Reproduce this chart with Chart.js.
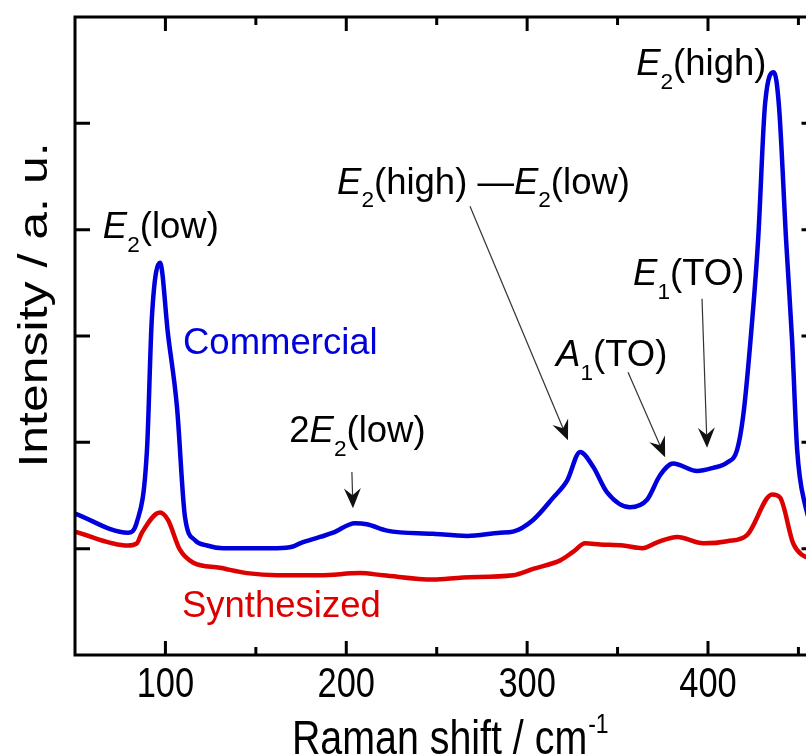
<!DOCTYPE html>
<html>
<head>
<meta charset="utf-8">
<script src="https://cdn.jsdelivr.net/npm/chart.js@4.4.1/dist/chart.umd.min.js"></script>
<style>
html, body { margin: 0; padding: 0; background: #fff; overflow: hidden; }
canvas { display: block; }
</style>
</head>
<body>
<canvas id="ramanChart" width="830" height="755"></canvas>
<script>
// Raman spectra (x: cm-1, y: arbitrary units)
const shiftCommercial = [50, 79.3, 84.2, 89.8, 92.5, 97.0, 101.4, 106.4, 110.8, 116.3, 123.0, 131.8, 146.7, 161.7, 170.5, 174.4, 185.5, 192.7, 204.8, 211.4, 222.5, 248.0, 266.8, 285.0, 292.2, 303.3, 314.4, 322.1, 329.3, 336.5, 344.2, 356.9, 366.3, 373.5, 380.7, 394.0, 402.8, 410.6, 416.1, 419.4, 422.7, 427.7, 431.6, 436.5, 439.3, 443.2, 446.5, 449.3, 453.7, 459];
const intensityCommercial = [1.33, 1.15, 1.25, 1.93, 3.17, 3.69, 3.02, 2.33, 1.30, 1.08, 1.03, 1.005, 1.005, 1.005, 1.02, 1.05, 1.11, 1.15, 1.24, 1.23, 1.17, 1.14, 1.12, 1.15, 1.16, 1.27, 1.48, 1.64, 1.91, 1.77, 1.53, 1.39, 1.46, 1.69, 1.80, 1.73, 1.76, 1.81, 1.93, 2.24, 2.80, 3.90, 5.19, 5.48, 5.15, 3.90, 2.96, 1.93, 1.41, 1.15];

const shiftSynthesized = [50, 79.3, 84.2, 87.0, 97.0, 101.4, 108.0, 115.2, 130.1, 145.1, 161.7, 185.5, 207.7, 220.4, 248.0, 264.6, 292.2, 303.3, 318.3, 325.4, 332.1, 340.4, 353.1, 363.6, 371.9, 383.0, 397.4, 410.6, 421.7, 435.5, 439.9, 447.1, 452.1, 459];
const intensitySynthesized = [1.16, 1.03, 1.05, 1.15, 1.34, 1.27, 0.99, 0.87, 0.82, 0.77, 0.75, 0.75, 0.77, 0.75, 0.71, 0.73, 0.75, 0.81, 0.89, 0.97, 1.05, 1.04, 1.03, 1.005, 1.06, 1.11, 1.05, 1.07, 1.13, 1.51, 1.48, 1.05, 0.94, 0.90];

const xMajorTicks = [100, 200, 300, 400];
const xMinorTicks = [150, 250, 350, 450];
const yTicks = [1, 2, 3, 4, 5];

// peak labels: runs of text, anchored (left, baseline) in data units
const peakLabels = [
  { runs: [['E', 'i'], ['2', 's'], ['(low)']], x: 65.4, y: 3.92 },
  { runs: [['2'], ['E', 'i'], ['2', 's'], ['(low)']], x: 168.5, y: 2.0 },
  { runs: [['E', 'i'], ['2', 's'], ['(high) \u2014'], ['E', 'i'], ['2', 's'], ['(low)']], x: 194.9, y: 4.34 },
  { runs: [['A', 'i'], ['1', 's'], ['(TO)']], x: 316, y: 2.72 },
  { runs: [['E', 'i'], ['1', 's'], ['(TO)']], x: 358.6, y: 3.48 },
  { runs: [['E', 'i'], ['2', 's'], ['(high)']], x: 360.3, y: 5.45 }
];
const seriesLabels = [
  { text: 'Commercial', color: '#0000dd', x: 109.7, y: 2.83 },
  { text: 'Synthesized', color: '#dd0000', x: 109.1, y: 0.36 }
];
// arrows: [fromX, fromY, toX, toY] in data units
const arrows = [
  [203.1, 1.72, 203.7, 1.38],
  [268.4, 4.22, 322.6, 2.02],
  [355.8, 2.66, 376.3, 1.86],
  [396.7, 3.35, 399.5, 1.95]
];

const FONT = '"Liberation Sans", Arial, sans-serif';
const SQUEEZE = 0.82; // axis text in the figure is horizontally condensed

function drawRuns(ctx, runs, x, y, size) {
  let cx = x;
  runs.forEach(r => {
    const sub = r[1] === 's';
    const fs = sub ? size * 0.62 : size;
    ctx.font = (r[1] === 'i' ? 'italic ' : '') + fs + 'px ' + FONT;
    ctx.fillText(r[0], cx, sub ? y + size * 0.38 : y);
    cx += ctx.measureText(r[0]).width;
  });
}

function drawArrow(ctx, x1, y1, x2, y2) {
  const a = Math.atan2(y2 - y1, x2 - x1);
  const c = Math.cos(a), s = Math.sin(a);
  const L = 20, W = 8.5, N = 7;
  ctx.lineWidth = 1.2;
  ctx.beginPath();
  ctx.moveTo(x1, y1);
  ctx.lineTo(x2 - (L - N) * c, y2 - (L - N) * s);
  ctx.stroke();
  ctx.beginPath();
  ctx.moveTo(x2, y2);
  ctx.lineTo(x2 - L * c - W * s, y2 - L * s + W * c);
  ctx.lineTo(x2 - (L - N) * c, y2 - (L - N) * s);
  ctx.lineTo(x2 - L * c + W * s, y2 - L * s - W * c);
  ctx.closePath();
  ctx.fill();
}

// text squeezed horizontally, x is the left edge
function squeezedText(ctx, text, x, y, size) {
  ctx.save();
  ctx.translate(x, y);
  ctx.scale(SQUEEZE, 1);
  ctx.font = size + 'px ' + FONT;
  ctx.fillText(text, 0, 0);
  ctx.restore();
}
function squeezedWidth(ctx, text, size) {
  ctx.font = size + 'px ' + FONT;
  return ctx.measureText(text).width * SQUEEZE;
}

const frameAndLabels = {
  id: 'frameAndLabels',
  afterDraw(chart) {
    const { ctx, chartArea: a, scales: { x, y } } = chart;
    ctx.save();
    ctx.strokeStyle = '#000';
    ctx.lineWidth = 3;
    ctx.strokeRect(a.left, a.top, a.right - a.left, a.bottom - a.top);

    // inward ticks on all four sides
    ctx.beginPath();
    xMajorTicks.forEach(v => {
      const px = x.getPixelForValue(v);
      ctx.moveTo(px, a.bottom); ctx.lineTo(px, a.bottom - 14);
      ctx.moveTo(px, a.top); ctx.lineTo(px, a.top + 14);
    });
    xMinorTicks.forEach(v => {
      const px = x.getPixelForValue(v);
      ctx.moveTo(px, a.bottom); ctx.lineTo(px, a.bottom - 8);
      ctx.moveTo(px, a.top); ctx.lineTo(px, a.top + 8);
    });
    yTicks.forEach(v => {
      const py = y.getPixelForValue(v);
      ctx.moveTo(a.left, py); ctx.lineTo(a.left + 15, py);
      ctx.moveTo(a.right, py); ctx.lineTo(a.right - 15, py);
    });
    ctx.stroke();

    // tick labels
    ctx.fillStyle = '#000';
    ctx.textBaseline = 'alphabetic';
    xMajorTicks.forEach(v => {
      const t = String(v);
      const w = squeezedWidth(ctx, t, 42);
      squeezedText(ctx, t, x.getPixelForValue(v) - w / 2, a.bottom + 42, 42);
    });

    // x title with superscript
    const main = 'Raman shift / cm';
    const wMain = squeezedWidth(ctx, main, 48);
    const wSup = squeezedWidth(ctx, '-1', 28);
    const tx = (a.left + a.right) / 2 + 4 - (wMain + wSup) / 2;
    squeezedText(ctx, main, tx, 754, 48);
    squeezedText(ctx, '-1', tx + wMain + 1, 733, 28);

    // y title (rotated, so the squeeze acts on glyph height)
    ctx.save();
    ctx.translate(47, 305);
    ctx.rotate(-Math.PI / 2);
    ctx.scale(1, SQUEEZE);
    ctx.font = '50px ' + FONT;
    ctx.textAlign = 'center';
    ctx.fillText('Intensity / a. u.', 0, 0);
    ctx.restore();

    // peak labels and arrows
    peakLabels.forEach(p => drawRuns(ctx, p.runs, x.getPixelForValue(p.x), y.getPixelForValue(p.y), 36.5));
    seriesLabels.forEach(l => {
      ctx.fillStyle = l.color;
      ctx.font = '36.5px ' + FONT;
      ctx.fillText(l.text, x.getPixelForValue(l.x), y.getPixelForValue(l.y));
    });
    ctx.fillStyle = '#111';
    ctx.strokeStyle = '#333';
    arrows.forEach(r => drawArrow(ctx,
      x.getPixelForValue(r[0]), y.getPixelForValue(r[1]),
      x.getPixelForValue(r[2]), y.getPixelForValue(r[3])));
    ctx.restore();
  }
};

const toPoints = (xs, ys) => xs.map((v, i) => ({ x: v, y: ys[i] }));

new Chart(document.getElementById('ramanChart'), {
  type: 'line',
  data: {
    datasets: [
      {
        label: 'Commercial',
        data: toPoints(shiftCommercial, intensityCommercial),
        borderColor: '#0000dd',
        borderWidth: 4.5,
        pointRadius: 0,
        cubicInterpolationMode: 'monotone',
        fill: false
      },
      {
        label: 'Synthesized',
        data: toPoints(shiftSynthesized, intensitySynthesized),
        borderColor: '#dd0000',
        borderWidth: 4.5,
        pointRadius: 0,
        cubicInterpolationMode: 'monotone',
        fill: false
      }
    ]
  },
  options: {
    responsive: false,
    devicePixelRatio: 1,
    animation: false,
    layout: { padding: { top: 17, right: 13.5, left: 0, bottom: 0 } },
    plugins: { legend: { display: false }, tooltip: { enabled: false } },
    scales: {
      x: {
        type: 'linear',
        min: 50,
        max: 460,
        afterBuildTicks: s => { s.ticks = xMajorTicks.map(v => ({ value: v })); },
        afterFit: s => { s.height = 100; },
        grid: { display: false },
        border: { display: false },
        ticks: { display: false }
      },
      y: {
        min: 0,
        max: 6,
        afterFit: s => { s.width = 75; },
        grid: { display: false },
        border: { display: false },
        ticks: { display: false }
      }
    }
  },
  plugins: [frameAndLabels]
});
</script>
</body>
</html>
